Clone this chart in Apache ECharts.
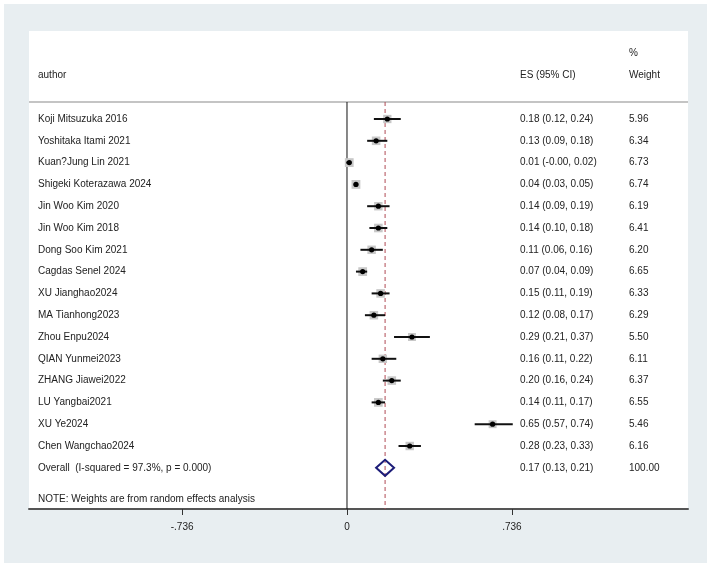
<!DOCTYPE html>
<html>
<head>
<meta charset="utf-8">
<script src="https://cdn.jsdelivr.net/npm/echarts@6/dist/echarts.min.js"></script>
<style>
  body { margin: 0; background: #fff; }
  #frame { position: absolute; left: 4px; top: 4px; width: 703px; height: 559px; background: #e8eef1; }
  #chart { position: absolute; left: 0; top: 0; width: 710px; height: 569px; }
</style>
</head>
<body>
<div id="frame"></div>
<div id="chart"></div>
<script>
// study rows
var authors = [
  "Koji Mitsuzuka 2016", "Yoshitaka Itami 2021", "Kuan?Jung Lin 2021", "Shigeki Koterazawa 2024",
  "Jin Woo Kim 2020", "Jin Woo Kim 2018", "Dong Soo Kim 2021", "Cagdas Senel 2024",
  "XU Jianghao2024", "MA Tianhong2023", "Zhou Enpu2024", "QIAN Yunmei2023",
  "ZHANG Jiawei2022", "LU Yangbai2021", "XU Ye2024", "Chen Wangchao2024"
];
var es = [0.18, 0.13, 0.01, 0.04, 0.14, 0.14, 0.11, 0.07, 0.15, 0.12, 0.29, 0.16, 0.20, 0.14, 0.65, 0.28];
var lo = [0.12, 0.09, -0.003, 0.03, 0.09, 0.10, 0.06, 0.04, 0.11, 0.08, 0.21, 0.11, 0.16, 0.11, 0.57, 0.23];
var hi = [0.24, 0.18, 0.02, 0.05, 0.19, 0.18, 0.16, 0.09, 0.19, 0.17, 0.37, 0.22, 0.24, 0.17, 0.74, 0.33];
var weights = [5.96, 6.34, 6.73, 6.74, 6.19, 6.41, 6.20, 6.65, 6.33, 6.29, 5.50, 6.11, 6.37, 6.55, 5.46, 6.16];

var overallLabel = "Overall  (I-squared = 97.3%, p = 0.000)";
var overall = [0.17, 0.13, 0.21, 100.00];
var noteText = "NOTE: Weights are from random effects analysis";
var headers = ["author", "ES (95% CI)", "Weight"];
var tickValues = [-0.736, 0, 0.736];

// layout (data space)
var X_MIN = -1.4196, X_MAX = 1.5223;
var Y_MIN = -3.037, Y_MAX = 18.89;
var COL_AUTHOR = -1.3795, COL_ES = 0.7723, COL_W = 1.2589;
var LINE_TOP = 0.22;
var FONT = '10px "Liberation Sans", Arial, sans-serif';
var TXT = "#222";

function fmt(v) { return v.toFixed(2); }
function ciText(e, l, h) { return fmt(e) + " (" + fmt(l) + ", " + fmt(h) + ")"; }

var rows = authors.map(function (a, i) {
  return [i + 1, es[i], lo[i], hi[i], weights[i]];
});

function text(api, xv, yv, str, align) {
  var p = api.coord([xv, yv]);
  return { type: "text", style: { x: p[0], y: p[1], text: str, font: FONT, fill: TXT,
    textAlign: align || "left", textVerticalAlign: "middle" } };
}

var chart = echarts.init(document.getElementById("chart"));
chart.setOption({
  animation: false,
  backgroundColor: "transparent",
  grid: { left: 29, right: 22, top: 31, bottom: 60, show: true, backgroundColor: "#fff", borderWidth: 0 },
  xAxis: {
    type: "value", min: X_MIN, max: X_MAX,
    axisLine: { show: true, onZero: false, lineStyle: { color: "#555", width: 2 } },
    axisTick: { show: true, customValues: tickValues, length: 6, lineStyle: { color: "#333", width: 1 } },
    axisLabel: { customValues: tickValues, margin: 13, color: TXT, fontSize: 10, fontFamily: "Liberation Sans",
      formatter: function (v) {
        if (Math.abs(v) < 1e-9) return "0";
        return (v < 0 ? "-" : "") + String(Math.abs(v)).replace(/^0/, "");
      } },
    splitLine: { show: false }
  },
  yAxis: { type: "value", inverse: true, min: Y_MIN, max: Y_MAX, show: false },
  series: [
    // header texts and rule
    {
      type: "custom", silent: true, data: [[0]],
      renderItem: function (params, api) {
        var l = api.coord([X_MIN, LINE_TOP]), r = api.coord([X_MAX, LINE_TOP]);
        return { type: "group", children: [
          text(api, COL_AUTHOR, -1, headers[0]),
          text(api, COL_ES, -1, headers[1]),
          text(api, COL_W, -1, headers[2]),
          text(api, COL_W, -2, "%"),
          text(api, COL_AUTHOR, 18.43, noteText),
          { type: "line", shape: { x1: l[0], y1: l[1], x2: r[0], y2: r[1] }, style: { stroke: "#c4c4c4", lineWidth: 2 } }
        ] };
      }
    },
    // reference lines: null effect and pooled estimate
    {
      type: "custom", silent: true, data: [[0, overall[0]]],
      renderItem: function (params, api) {
        var a = api.coord([api.value(0), LINE_TOP]), b = api.coord([api.value(0), Y_MAX]);
        var c = api.coord([api.value(1), LINE_TOP]), d = api.coord([api.value(1), Y_MAX]);
        return { type: "group", children: [
          { type: "line", shape: { x1: a[0], y1: a[1], x2: b[0], y2: b[1] }, style: { stroke: "#111", lineWidth: 1 } },
          { type: "line", shape: { x1: c[0], y1: c[1], x2: d[0], y2: d[1] }, style: { stroke: "#b04a55", lineWidth: 1, lineDash: [4, 3] } }
        ] };
      }
    },
    // studies
    {
      type: "custom", silent: true, data: rows, z: 3,
      renderItem: function (params, api) {
        var y = api.value(0), e = api.value(1), l = api.value(2), h = api.value(3), w = api.value(4);
        var pe = api.coord([e, y]), pl = api.coord([l, y]), ph = api.coord([h, y]);
        var s = 3.4 * Math.sqrt(w);
        var i = params.dataIndex;
        return { type: "group", children: [
          { type: "rect", shape: { x: pe[0] - s / 2, y: pe[1] - s / 2, width: s, height: s }, style: { fill: "#c8c8c8" } },
          { type: "line", shape: { x1: pl[0], y1: pl[1], x2: ph[0], y2: ph[1] }, style: { stroke: "#111", lineWidth: 2 } },
          { type: "circle", shape: { cx: pe[0], cy: pe[1], r: 2.6 }, style: { fill: "#000" } },
          text(api, COL_AUTHOR, y, authors[i]),
          text(api, COL_ES, y, ciText(es[i], lo[i], hi[i])),
          text(api, COL_W, y, fmt(weights[i]))
        ] };
      }
    },
    // overall diamond
    {
      type: "custom", silent: true, data: [[17].concat(overall)], z: 3,
      renderItem: function (params, api) {
        var y = api.value(0), e = api.value(1), l = api.value(2), h = api.value(3);
        var pe = api.coord([e, y]), pl = api.coord([l, y]), ph = api.coord([h, y]);
        var hh = 8;
        return { type: "group", children: [
          { type: "polygon", shape: { points: [[pl[0], pe[1]], [pe[0], pe[1] - hh], [ph[0], pe[1]], [pe[0], pe[1] + hh]] },
            style: { fill: "none", stroke: "#1c1c78", lineWidth: 2 } },
          text(api, COL_AUTHOR, y, overallLabel),
          text(api, COL_ES, y, ciText(e, l, h)),
          text(api, COL_W, y, api.value(4).toFixed(2))
        ] };
      }
    }
  ]
});
</script>
</body>
</html>
